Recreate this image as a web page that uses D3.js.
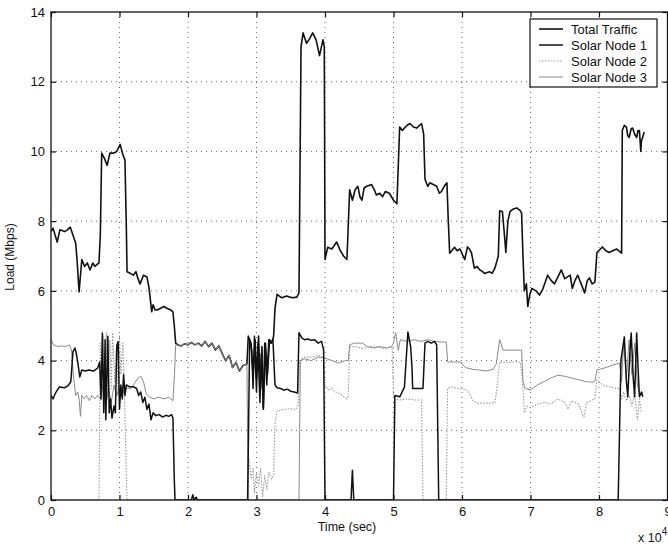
<!DOCTYPE html>
<html>
<head>
<meta charset="utf-8">
<script src="https://cdn.jsdelivr.net/npm/d3@7"></script>
<style>
  body { margin: 0; background: #fff; }
  svg text { font-family: "Liberation Sans", Arial, Helvetica, sans-serif; fill: #111; }
</style>
</head>
<body>
<script>
// time in units of 10^4 sec, load in Mbps
const totalTraffic = [
  [0,7.7],[0.03,7.8],[0.09,7.4],[0.13,7.75],[0.2,7.7],[0.24,7.75],[0.28,7.83],[0.32,7.6],[0.36,7.37],[0.38,6.9],
  [0.41,5.97],[0.45,6.9],[0.49,6.7],[0.53,6.8],[0.57,6.6],[0.61,6.8],[0.64,6.7],[0.70,6.8],[0.72,7.6],[0.74,9.95],
  [0.78,9.8],[0.82,9.6],[0.86,9.95],[0.91,9.95],[0.96,10.0],[1.01,10.2],[1.05,9.9],[1.08,9.75],[1.10,7.8],[1.11,6.55],
  [1.16,6.5],[1.20,6.45],[1.24,6.55],[1.27,6.35],[1.30,6.2],[1.35,6.45],[1.40,6.4],[1.43,6.1],[1.47,5.4],[1.49,5.6],
  [1.52,5.45],[1.55,5.45],[1.60,5.5],[1.65,5.55],[1.69,5.5],[1.75,5.45],[1.78,5.4],[1.80,5.0],[1.82,4.5],[1.85,4.45],
  [1.9,4.42],[1.95,4.48],[2.0,4.45],[2.05,4.52],[2.1,4.45],[2.15,4.5],[2.2,4.42],[2.25,4.55],[2.3,4.4],[2.35,4.5],
  [2.4,4.3],[2.45,4.42],[2.5,4.2],[2.55,4.0],[2.6,4.15],[2.65,3.8],[2.7,3.95],[2.75,3.7],[2.8,3.85],[2.86,3.9],
  [2.88,4.7],[2.92,4.5],[2.95,3.6],[2.98,4.6],[3.0,3.5],[3.03,4.7],[3.06,3.2],[3.08,4.4],[3.10,2.65],[3.13,4.5],
  [3.16,3.6],[3.19,4.6],[3.22,4.5],[3.25,4.7],[3.27,5.5],[3.30,5.9],[3.37,5.8],[3.44,5.85],[3.52,5.8],[3.59,5.82],
  [3.62,5.95],[3.65,13.0],[3.68,13.4],[3.73,13.1],[3.78,13.25],[3.82,13.4],[3.87,13.2],[3.92,12.75],[3.97,13.2],[3.99,13.0],
  [4.0,6.9],[4.04,7.25],[4.10,7.2],[4.17,7.4],[4.22,7.17],[4.27,7.0],[4.32,6.9],[4.36,8.9],[4.40,8.6],[4.44,8.9],
  [4.48,9.0],[4.51,8.7],[4.54,8.6],[4.57,8.95],[4.61,9.0],[4.68,9.05],[4.72,8.9],[4.75,8.75],[4.80,8.8],[4.84,8.7],
  [4.88,8.85],[4.94,8.8],[5.0,8.6],[5.05,8.5],[5.09,10.7],[5.13,10.6],[5.16,10.67],[5.20,10.75],[5.24,10.8],[5.29,10.7],
  [5.34,10.67],[5.38,10.75],[5.41,10.8],[5.44,10.5],[5.46,9.2],[5.50,9.0],[5.53,9.1],[5.58,9.05],[5.63,9.0],[5.67,8.8],
  [5.70,8.85],[5.74,9.0],[5.78,9.1],[5.80,8.0],[5.82,7.08],[5.89,7.25],[5.93,7.15],[5.97,7.2],[6.04,6.9],[6.08,7.26],
  [6.11,7.2],[6.14,7.08],[6.18,6.65],[6.22,6.7],[6.26,6.6],[6.30,6.55],[6.33,6.5],[6.40,6.55],[6.44,6.5],[6.48,6.65],
  [6.53,7.0],[6.55,8.3],[6.59,8.27],[6.62,7.6],[6.64,7.1],[6.67,8.0],[6.70,8.27],[6.75,8.35],[6.80,8.38],[6.85,8.3],
  [6.87,8.23],[6.89,7.0],[6.91,6.0],[6.94,6.2],[6.96,5.55],[6.99,5.9],[7.02,6.07],[7.08,6.0],[7.13,5.88],[7.18,6.05],
  [7.25,6.45],[7.30,6.3],[7.35,6.2],[7.40,6.4],[7.45,6.6],[7.50,6.35],[7.54,6.4],[7.58,6.45],[7.61,6.07],[7.65,6.3],
  [7.69,6.45],[7.74,6.2],[7.79,5.94],[7.83,6.3],[7.86,6.37],[7.90,6.2],[7.94,6.25],[7.97,7.1],[8.05,7.26],[8.10,7.15],
  [8.15,7.1],[8.20,7.15],[8.26,7.2],[8.33,7.08],[8.34,10.6],[8.37,10.75],[8.40,10.7],[8.42,10.45],[8.44,10.4],[8.47,10.65],
  [8.49,10.67],[8.52,10.5],[8.55,10.4],[8.57,10.6],[8.59,10.6],[8.61,10.0],[8.62,10.3],[8.66,10.56]
];

const solarNode1 = [
  [0,3.0],[0.03,2.9],[0.06,3.05],[0.12,3.24],[0.2,3.22],[0.25,3.28],[0.29,3.4],[0.32,4.25],[0.35,4.36],[0.37,4.2],
  [0.39,3.96],[0.42,3.53],[0.45,3.73],[0.5,3.7],[0.55,3.73],[0.62,3.7],[0.68,3.78],[0.71,3.96],[0.73,2.9],[0.75,4.79],
  [0.77,2.5],[0.79,4.6],[0.80,2.3],[0.83,4.7],[0.85,2.5],[0.87,2.9],[0.89,2.35],[0.92,2.7],[0.94,2.5],[0.96,4.4],
  [0.98,4.55],[1.0,2.6],[1.02,3.3],[1.04,2.9],[1.06,3.6],[1.08,3.0],[1.10,3.3],[1.14,3.25],[1.2,3.25],[1.25,3.2],
  [1.28,3.0],[1.31,3.1],[1.34,2.8],[1.37,2.95],[1.40,2.6],[1.43,2.75],[1.46,2.3],[1.49,2.5],[1.53,2.42],[1.58,2.45],
  [1.63,2.38],[1.68,2.43],[1.72,2.4],[1.76,2.45],[1.78,2.35],[1.80,0.6],[1.81,0],[2.05,0],[2.07,0.15],[2.09,0],
  [2.12,0.08],[2.14,0],[2.87,0],[2.88,1.4],[2.90,4.6],[2.93,4.3],[2.95,3.2],[2.97,4.7],[3.0,3.1],[3.02,4.5],
  [3.05,2.8],[3.07,4.2],[3.10,2.6],[3.12,4.5],[3.15,3.3],[3.18,4.6],[3.21,4.5],[3.24,4.6],[3.27,3.3],[3.30,3.22],
  [3.35,3.2],[3.40,3.15],[3.45,3.18],[3.50,3.12],[3.55,3.1],[3.60,3.07],[3.62,4.8],[3.66,4.65],[3.70,4.6],[3.75,4.62],
  [3.80,4.58],[3.85,4.6],[3.90,4.5],[3.95,4.55],[3.98,4.3],[4.0,0],[4.38,0],[4.40,0.85],[4.42,0],[5.0,0],
  [5.02,3.0],[5.09,2.96],[5.16,3.24],[5.21,4.82],[5.25,4.4],[5.27,3.8],[5.28,3.2],[5.35,3.2],[5.43,3.2],[5.46,4.5],
  [5.5,4.55],[5.55,4.5],[5.6,4.55],[5.63,4.45],[5.66,0],[8.28,0],[8.32,4.0],[8.37,4.68],[8.40,3.4],[8.42,2.96],
  [8.45,4.2],[8.47,4.79],[8.50,3.5],[8.52,2.96],[8.55,4.79],[8.57,3.8],[8.59,2.96],[8.62,3.1],[8.64,2.96]
];

const solarNode2 = [
  [0,0],[0.70,0],[0.72,4.5],[0.74,3.0],[0.76,4.7],[0.78,2.6],[0.81,4.8],[0.83,3.0],[0.86,4.6],[0.88,3.2],
  [0.90,4.8],[0.93,3.4],[0.96,4.5],[0.98,3.0],[1.0,4.7],[1.02,3.6],[1.05,4.5],[1.07,3.2],[1.09,1.5],[1.11,0],
  [2.87,0],[2.89,1.2],[2.92,0.6],[2.95,0.9],[2.97,0.2],[3.0,0.8],[3.03,0.4],[3.06,0.9],[3.09,0.1],[3.12,0.7],
  [3.15,0.3],[3.18,0.8],[3.22,0.6],[3.25,0.7],[3.27,2.2],[3.30,2.55],[3.40,2.6],[3.50,2.62],[3.58,2.6],[3.61,2.8],
  [3.63,4.0],[3.70,4.1],[3.80,4.1],[3.90,4.15],[3.98,4.1],[4.0,3.3],[4.05,3.16],[4.10,3.2],[4.15,3.1],[4.22,3.05],
  [4.28,2.95],[4.32,2.9],[4.34,3.0],[4.36,4.4],[4.45,4.4],[4.55,4.35],[4.70,4.42],[4.85,4.35],[4.98,4.4],[5.0,2.9],
  [5.1,2.87],[5.2,2.9],[5.3,2.87],[5.41,2.87],[5.43,0],[5.77,0],[5.79,3.2],[5.85,3.24],[5.95,3.2],[6.05,3.18],
  [6.10,3.1],[6.15,2.87],[6.22,2.78],[6.35,2.78],[6.48,2.78],[6.51,3.2],[6.55,3.96],[6.65,3.95],[6.75,3.96],[6.85,3.96],
  [6.88,3.5],[6.91,2.5],[6.95,2.7],[7.0,2.65],[7.1,2.75],[7.2,2.8],[7.3,2.75],[7.4,2.9],[7.5,2.8],[7.55,2.6],
  [7.6,2.85],[7.7,2.75],[7.78,2.38],[7.82,2.8],[7.88,2.85],[7.94,2.9],[7.97,3.44],[8.05,3.3],[8.15,3.25],[8.25,3.2],
  [8.3,3.2],[8.33,2.9],[8.36,3.1],[8.40,2.85],[8.44,3.0],[8.48,2.7],[8.52,3.1],[8.56,2.3],[8.59,2.9],[8.62,2.5]
];

const solarNode3 = [
  [0,4.6],[0.04,4.45],[0.1,4.4],[0.16,4.42],[0.22,4.4],[0.27,4.45],[0.30,4.3],[0.33,3.5],[0.36,3.0],[0.39,3.1],
  [0.41,2.9],[0.43,2.4],[0.45,3.0],[0.48,2.9],[0.52,3.0],[0.56,2.85],[0.60,3.0],[0.64,2.9],[0.68,3.0],[0.72,2.9],
  [0.76,3.3],[0.80,2.7],[0.84,3.2],[0.88,2.8],[0.92,3.3],[0.96,3.0],[1.0,3.25],[1.04,3.0],[1.08,3.2],[1.12,3.2],
  [1.17,3.2],[1.22,3.35],[1.27,3.5],[1.31,3.55],[1.35,3.4],[1.39,3.05],[1.44,2.95],[1.50,2.9],[1.57,2.95],[1.65,2.9],
  [1.72,2.95],[1.78,2.85],[1.80,3.5],[1.82,4.45],[1.85,4.45],[1.9,4.42],[1.95,4.48],[2.0,4.45],[2.05,4.52],[2.1,4.45],
  [2.15,4.5],[2.2,4.42],[2.25,4.55],[2.3,4.4],[2.35,4.5],[2.4,4.3],[2.45,4.42],[2.5,4.2],[2.55,4.0],[2.6,4.15],
  [2.65,3.8],[2.7,3.95],[2.75,3.7],[2.8,3.85],[2.86,3.9],[2.88,0],[3.62,0],[3.64,4.0],[3.7,4.05],[3.8,4.0],
  [3.9,4.1],[4.0,4.07],[4.1,4.0],[4.2,3.93],[4.3,4.0],[4.34,4.0],[4.36,4.45],[4.42,4.5],[4.55,4.5],[4.62,4.4],
  [4.70,4.36],[4.8,4.4],[4.9,4.36],[4.97,4.4],[5.0,4.5],[5.03,4.8],[5.07,4.3],[5.10,4.6],[5.2,4.55],[5.3,4.6],
  [5.4,4.55],[5.5,4.6],[5.6,4.55],[5.7,4.53],[5.77,4.53],[5.79,3.96],[5.9,3.96],[5.97,3.96],[6.05,3.8],[6.15,3.75],
  [6.25,3.73],[6.35,3.7],[6.45,3.75],[6.5,3.9],[6.55,4.6],[6.6,4.3],[6.7,4.3],[6.8,4.3],[6.87,4.3],[6.89,3.4],
  [6.92,3.2],[7.0,3.16],[7.1,3.3],[7.2,3.4],[7.3,3.5],[7.4,3.58],[7.5,3.55],[7.6,3.5],[7.7,3.45],[7.8,3.4],
  [7.9,3.38],[7.94,3.4],[7.97,3.73],[8.1,3.8],[8.2,3.87],[8.3,3.93],[8.33,3.4],[8.36,4.5],[8.40,3.5],[8.44,4.6],
  [8.48,3.6],[8.52,4.5],[8.56,3.3],[8.6,3.0],[8.64,3.1]
];

const xTicks = [0, 1, 2, 3, 4, 5, 6, 7, 8, 9];
const yTicks = [0, 2, 4, 6, 8, 10, 12, 14];
const legendNames = ["Total Traffic", "Solar Node 1", "Solar Node 2", "Solar Node 3"];

const W = 668, H = 546;
const plotL = 51, plotR = 667.5, plotT = 12, plotB = 500;

const svg = d3.select("body").append("svg")
  .attr("width", W)
  .attr("height", H);

const x = d3.scaleLinear().domain([0, 9]).range([plotL, plotR]);
const y = d3.scaleLinear().domain([0, 14]).range([plotB, plotT]);

// dotted grid
const grid = svg.append("g")
  .attr("stroke", "#444")
  .attr("stroke-width", 0.8)
  .attr("stroke-dasharray", "1,4");
grid.selectAll(".gx").data(xTicks.slice(1, -1)).enter().append("line")
  .attr("x1", d => x(d)).attr("x2", d => x(d))
  .attr("y1", plotT).attr("y2", plotB);
grid.selectAll(".gy").data(yTicks.slice(1, -1)).enter().append("line")
  .attr("x1", plotL).attr("x2", plotR)
  .attr("y1", d => y(d)).attr("y2", d => y(d));

svg.append("clipPath").attr("id", "plot")
  .append("rect").attr("x", plotL).attr("y", plotT - 2)
  .attr("width", plotR - plotL).attr("height", plotB - plotT + 2);

const line = d3.line().x(d => x(d[0])).y(d => y(d[1]));

const series = [
  { data: totalTraffic, color: "#111", width: 1.6, dash: null },
  { data: solarNode2, color: "#9a9a9a", width: 1.1, dash: "1.5,1.5" },
  { data: solarNode3, color: "#8a8a8a", width: 1, dash: null },
  { data: solarNode1, color: "#111", width: 1.5, dash: null }
];

const lines = svg.append("g").attr("clip-path", "url(#plot)");
series.forEach(s => {
  lines.append("path")
    .attr("d", line(s.data))
    .attr("fill", "none")
    .attr("stroke", s.color)
    .attr("stroke-width", s.width)
    .attr("stroke-dasharray", s.dash)
    .attr("stroke-linejoin", "round");
});

// axes, ticks pointing inward
const fontSize = 13;
svg.append("g")
  .attr("transform", `translate(0,${plotB})`)
  .call(d3.axisBottom(x).tickValues(xTicks).tickSize(-5).tickSizeOuter(0).tickPadding(7));
svg.append("g")
  .attr("transform", `translate(${plotL},0)`)
  .call(d3.axisLeft(y).tickValues(yTicks).tickSize(-5).tickSizeOuter(0).tickPadding(6));
svg.append("g")
  .attr("transform", `translate(0,${plotT})`)
  .call(d3.axisTop(x).tickValues(xTicks).tickSize(-5).tickSizeOuter(0).tickFormat(""));
svg.append("g")
  .attr("transform", `translate(${plotR},0)`)
  .call(d3.axisRight(y).tickValues(yTicks).tickSize(-5).tickSizeOuter(0).tickFormat(""));

svg.selectAll(".domain").remove();
svg.selectAll(".tick line").attr("stroke", "#111").attr("stroke-width", 1.2);
svg.selectAll(".tick text")
  .attr("font-size", fontSize)
  .attr("font-family", "Liberation Sans, Arial, sans-serif")
  .attr("fill", "#111");

// frame
svg.append("rect")
  .attr("x", plotL).attr("y", plotT)
  .attr("width", plotR - plotL).attr("height", plotB - plotT)
  .attr("fill", "none")
  .attr("stroke", "#111")
  .attr("stroke-width", 1.3);

// axis titles
svg.append("text")
  .attr("x", 347).attr("y", 531)
  .attr("text-anchor", "middle")
  .attr("font-size", 12.5)
  .text("Time (sec)");

svg.append("text")
  .attr("transform", "translate(14,257) rotate(-90)")
  .attr("text-anchor", "middle")
  .attr("font-size", 12)
  .text("Load (Mbps)");

const mult = svg.append("text")
  .attr("x", 638).attr("y", 542)
  .attr("font-size", 12.5);
mult.append("tspan").text("x 10");
mult.append("tspan").attr("dy", -7).attr("font-size", 10).text("4");

// legend
const legend = svg.append("g");
legend.append("rect")
  .attr("x", 530).attr("y", 19)
  .attr("width", 127).attr("height", 68)
  .attr("fill", "#fff")
  .attr("stroke", "#111")
  .attr("stroke-width", 1.2);

const legendStyles = [series[0], series[3], series[1], series[2]];
legendNames.forEach((name, i) => {
  const cy = 29 + i * 16;
  const s = legendStyles[i];
  legend.append("line")
    .attr("x1", 539).attr("x2", 563)
    .attr("y1", cy).attr("y2", cy)
    .attr("stroke", s.color)
    .attr("stroke-width", s.width)
    .attr("stroke-dasharray", s.dash);
  legend.append("text")
    .attr("x", 571).attr("y", cy + 5)
    .attr("font-size", 13)
    .text(name);
});
</script>
</body>
</html>
